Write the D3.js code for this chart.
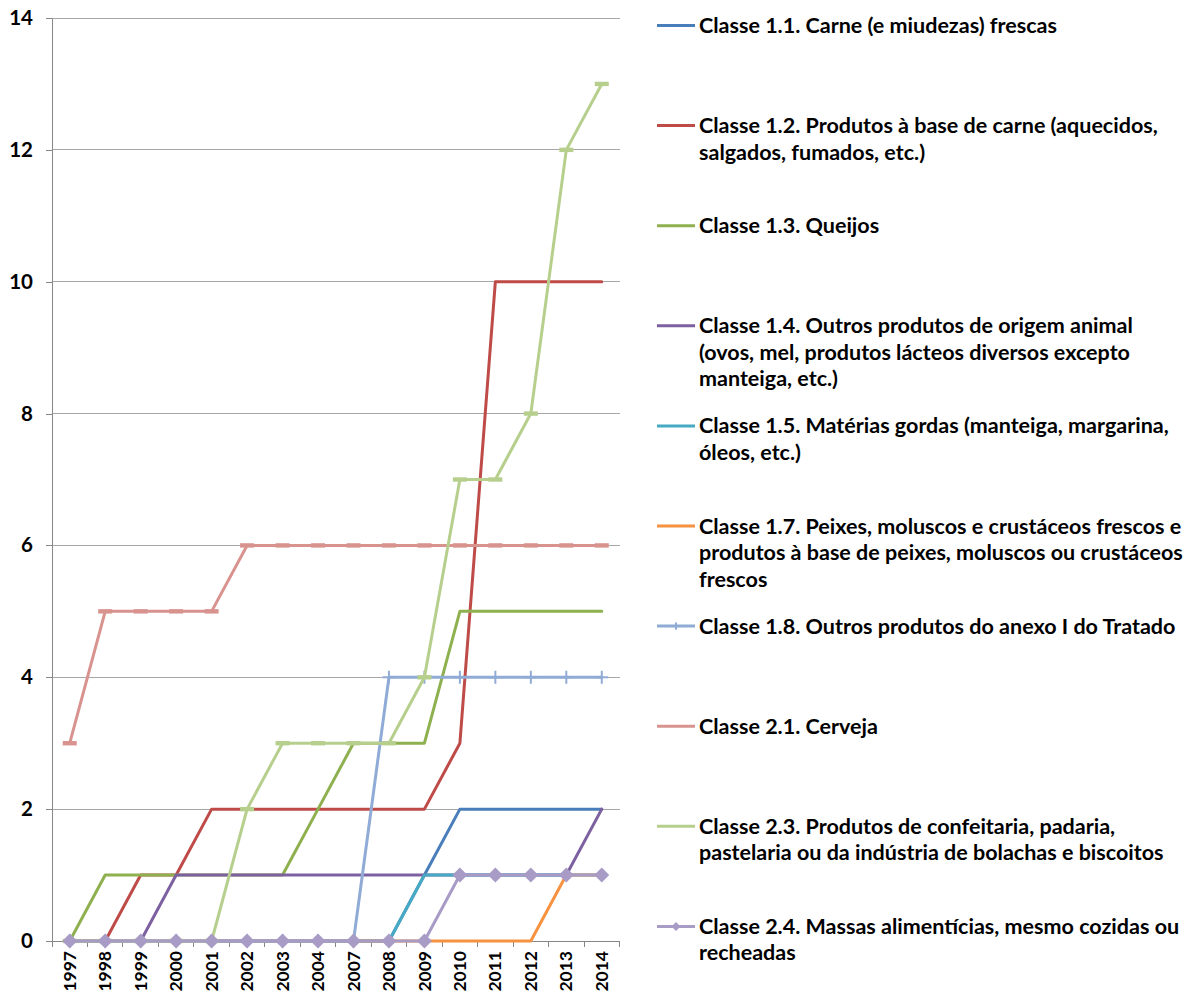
<!DOCTYPE html>
<html>
<head>
<meta charset="utf-8">
<script src="https://cdn.jsdelivr.net/npm/d3@7"></script>
<style>
  html, body { margin: 0; padding: 0; background: #ffffff; }
  svg { display: block; }
</style>
</head>
<body>
<svg id="chart" width="1192" height="994"></svg>
<script>
// Categories (years) along the x axis
const categories = ["1997","1998","1999","2000","2001","2002","2003","2004","2007","2008","2009","2010","2011","2012","2013","2014"];
const yTicks = [0, 2, 4, 6, 8, 10, 12, 14];

// Cumulative counts per product class
const classe11 = [0,0,0,0,0,0,0,0,0,0,1,2,2,2,2,2];
const classe12 = [0,0,1,1,2,2,2,2,2,2,2,3,10,10,10,10];
const classe13 = [0,1,1,1,1,1,1,2,3,3,3,5,5,5,5,5];
const classe14 = [0,0,0,1,1,1,1,1,1,1,1,1,1,1,1,2];
const classe15 = [0,0,0,0,0,0,0,0,0,0,1,1,1,1,1,1];
const classe17 = [0,0,0,0,0,0,0,0,0,0,0,0,0,0,1,1];
const classe18 = [0,0,0,0,0,0,0,0,0,4,4,4,4,4,4,4];
const classe21 = [3,5,5,5,5,6,6,6,6,6,6,6,6,6,6,6];
const classe23 = [0,0,0,0,0,2,3,3,3,3,4,7,7,8,12,13];
const classe24 = [0,0,0,0,0,0,0,0,0,0,0,1,1,1,1,1];

const seriesNames = [
  ["Classe 1.1. Carne (e miudezas) frescas"],
  ["Classe 1.2. Produtos à base de carne (aquecidos,", "salgados, fumados, etc.)"],
  ["Classe 1.3. Queijos"],
  ["Classe 1.4. Outros produtos de origem animal", "(ovos, mel, produtos lácteos diversos excepto", "manteiga, etc.)"],
  ["Classe 1.5. Matérias gordas (manteiga, margarina,", "óleos, etc.)"],
  ["Classe 1.7. Peixes, moluscos e crustáceos frescos e", "produtos à base de peixes, moluscos ou crustáceos", "frescos"],
  ["Classe 1.8. Outros produtos do anexo I do Tratado"],
  ["Classe 2.1. Cerveja"],
  ["Classe 2.3. Produtos de confeitaria, padaria,", "pastelaria ou da indústria de bolachas e biscoitos"],
  ["Classe 2.4. Massas alimentícias, mesmo cozidas ou", "recheadas"]
];
const seriesValues = [classe11, classe12, classe13, classe14, classe15, classe17, classe18, classe21, classe23, classe24];
const seriesColors = ["#4A7EBB", "#BE4B48", "#8EB04F", "#7D60A0", "#46AAC5", "#F69240", "#90ABD6", "#D8938F", "#B6CF8D", "#A89BC6"];
const seriesMarkers = ["none", "none", "none", "none", "none", "none", "plus", "dash", "dash", "diamond"];

const series = seriesNames.map((lines, i) => ({
  lines, values: seriesValues[i], color: seriesColors[i], marker: seriesMarkers[i]
}));

const FONT = "Lato, 'Open Sans', sans-serif";
const svg = d3.select("#chart");

// Plot geometry
const plot = { left: 52, right: 619.5, top: 18, bottom: 941 };

const x = d3.scaleBand().domain(categories).range([plot.left, plot.right]).padding(0);
const y = d3.scaleLinear().domain([0, 14]).range([plot.bottom, plot.top]);
const cx = c => x(c) + x.bandwidth() / 2;

// Fit a font size so that a sample string reaches a given width
function fitSize(sample, target, weight) {
  const t = svg.append("text").attr("font-family", FONT).attr("font-weight", weight)
    .attr("font-size", 100).text(sample);
  const w = t.node().getComputedTextLength();
  t.remove();
  return 100 * target / w;
}
const legendSize = fitSize("Classe 1.1. Carne (e miudezas) frescas", 358, 700);

// Horizontal gridlines
svg.append("g").selectAll("line").data(yTicks.filter(d => d > 0)).join("line")
  .attr("x1", plot.left).attr("x2", plot.right)
  .attr("y1", d => y(d)).attr("y2", d => y(d))
  .attr("stroke", "#A6A6A6").attr("stroke-width", 1).attr("shape-rendering", "crispEdges");

// Y axis
const yAxis = svg.append("g")
  .attr("transform", `translate(${plot.left},0)`)
  .call(d3.axisLeft(y).tickValues(yTicks).tickSize(6).tickPadding(13).tickSizeOuter(0));
yAxis.select(".domain").attr("stroke", "#868686").attr("shape-rendering", "crispEdges");
yAxis.selectAll(".tick line").attr("stroke", "#868686").attr("shape-rendering", "crispEdges");
yAxis.selectAll(".tick text")
  .attr("font-family", FONT).attr("font-weight", 700).attr("font-size", 20.5).attr("fill", "#000");

// X axis
const xAxis = svg.append("g")
  .attr("transform", `translate(0,${plot.bottom})`)
  .call(d3.axisBottom(x).tickSize(0).tickSizeOuter(0));
xAxis.select(".domain").attr("stroke", "#868686").attr("shape-rendering", "crispEdges");
xAxis.selectAll(".tick text")
  .attr("font-family", FONT).attr("font-weight", 700).attr("font-size", 17.5).attr("fill", "#000")
  .attr("text-anchor", "end")
  .attr("transform", "rotate(-90)")
  .attr("x", -10).attr("y", 0).attr("dy", "0.35em");
// Tick marks between categories
const boundaries = categories.map(c => x(c)).concat([plot.right]);
svg.append("g").selectAll("line").data(boundaries).join("line")
  .attr("x1", d => d).attr("x2", d => d)
  .attr("y1", plot.bottom).attr("y2", plot.bottom + 6)
  .attr("stroke", "#868686").attr("shape-rendering", "crispEdges");

// Marker drawing
function drawMarker(g, type, color, px, py, scale) {
  const s = scale || 1;
  if (type === "plus") {
    g.append("line").attr("x1", px).attr("x2", px).attr("y1", py - 6.5 * s).attr("y2", py + 6.5 * s)
      .attr("stroke", color).attr("stroke-width", 2);
    g.append("line").attr("x1", px - 6.5 * s).attr("x2", px + 6.5 * s).attr("y1", py).attr("y2", py)
      .attr("stroke", color).attr("stroke-width", 2);
  } else if (type === "dash") {
    g.append("rect").attr("x", px - 7 * s).attr("y", py - 2.2 * s)
      .attr("width", 14 * s).attr("height", 4.4 * s).attr("fill", color);
  } else if (type === "diamond") {
    const r = 7.5 * s;
    g.append("path")
      .attr("d", `M${px},${py - r}L${px + r},${py}L${px},${py + r}L${px - r},${py}Z`)
      .attr("fill", color);
  }
}

// Series lines and markers
const line = d3.line().x((d, i) => cx(categories[i])).y(d => y(d));
series.forEach(s => {
  const g = svg.append("g");
  g.append("path").datum(s.values).attr("d", line)
    .attr("fill", "none").attr("stroke", s.color).attr("stroke-width", 3)
    .attr("stroke-linejoin", "round").attr("stroke-linecap", "round");
  if (s.marker !== "none") {
    s.values.forEach((v, i) => drawMarker(g, s.marker, s.color, cx(categories[i]), y(v), 1));
  }
});

// Legend
const legend = { x0: 657, x1: 695, textX: 699, top: 25.5, step: 100.1, lineH: 26.5 };
series.forEach((s, i) => {
  const ly = legend.top + legend.step * i;
  const g = svg.append("g");
  g.append("line").attr("x1", legend.x0).attr("x2", legend.x1).attr("y1", ly).attr("y2", ly)
    .attr("stroke", s.color).attr("stroke-width", 3);
  if (s.marker === "plus") drawMarker(g, "plus", s.color, (legend.x0 + legend.x1) / 2, ly, 0.55);
  if (s.marker === "diamond") drawMarker(g, "diamond", s.color, (legend.x0 + legend.x1) / 2, ly, 0.6);
  const t = g.append("text")
    .attr("font-family", FONT).attr("font-weight", 700).attr("font-size", legendSize)
    .attr("fill", "#000");
  s.lines.forEach((ln, j) => {
    t.append("tspan").attr("x", legend.textX).attr("y", ly + j * legend.lineH).attr("dy", "0.35em").text(ln);
  });
});
</script>
</body>
</html>
